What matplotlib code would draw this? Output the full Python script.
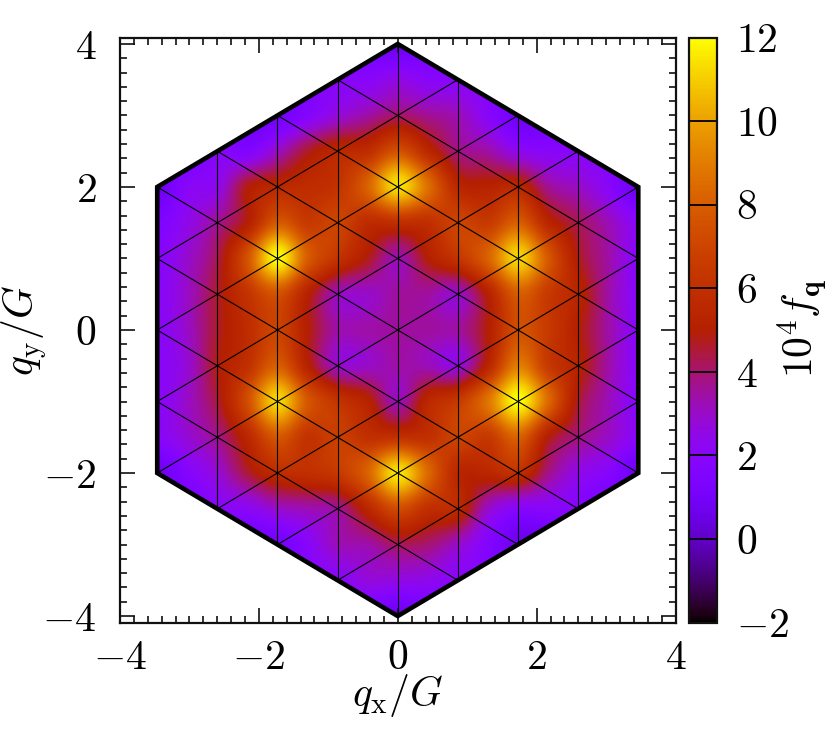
import numpy as np
import matplotlib
matplotlib.use("Agg")
import matplotlib.pyplot as plt
from matplotlib.patches import Polygon
from matplotlib.ticker import MultipleLocator

plt.rcParams['mathtext.fontset'] = 'cm'
plt.rcParams['font.family'] = 'cmr10'
plt.rcParams['axes.unicode_minus'] = False

s = np.sqrt(3) / 2

# f_q on a rectangular grid, top row is y = 4, left column is x = -4 s
# cells outside the hexagon just hold a background value
O = 2.0
y4 = [O, O, O, O, O, O, O, 1.2, 0.6, 1.2, O, O, O, O, O, O, O]
y35 = [O, O, O, O, O, O, 2.0, 2.0, 2.5, 2.0, 2.0, O, O, O, O, O, O]
y30 = [O, O, O, 1.0, 0.9, 1.8, 2.7, 3.4, 4.0, 3.6, 3.2, 2.0, 0.9, 1.0, O, O, O]
y25 = [O, 1.2, 2.0, 1.6, 3.0, 4.6, 5.5, 5.8, 7.5, 5.5, 3.8, 3.4, 2.3, 2.0, 2.0, O, O]
y20 = [0.6, 2.0, 2.4, 4.8, 5.5, 5.8, 6.2, 8.2, 11.4, 8.6, 5.5, 5.2, 5.5, 3.6, 3.0, 2.0, 0.6]
y15 = [1.5, 2.4, 3.6, 5.0, 7.8, 6.5, 7.0, 5.8, 6.0, 6.0, 7.0, 6.5, 8.0, 5.4, 4.2, 3.2, 2.0]
y10 = [1.8, 2.9, 4.3, 7.6, 12.0, 8.0, 6.2, 4.8, 3.3, 5.0, 6.3, 8.2, 11.2, 7.8, 4.8, 3.4, 2.0]
y05 = [2.0, 3.0, 4.6, 6.2, 7.6, 5.2, 3.2, 3.0, 3.5, 3.5, 3.0, 5.2, 8.0, 6.5, 5.3, 3.4, 2.0]
y00 = [2.0, 3.0, 4.6, 5.8, 7.0, 5.0, 3.4, 3.4, 3.5, 3.5, 3.5, 5.0, 7.5, 6.5, 5.0, 3.4, 2.0]
ym05 = [2.0, 2.8, 4.8, 6.0, 8.0, 5.2, 3.0, 3.0, 3.4, 3.2, 2.7, 5.4, 9.0, 6.5, 5.2, 3.4, 2.0]
ym10 = [2.0, 3.0, 4.5, 7.4, 11.2, 7.8, 6.2, 5.2, 3.2, 5.5, 6.5, 8.8, 12.0, 8.4, 4.6, 3.2, 1.9]
ym15 = [2.0, 2.8, 3.7, 5.5, 7.8, 6.2, 6.8, 6.0, 6.0, 6.0, 7.0, 6.5, 8.2, 5.0, 3.8, 3.0, 2.0]
ym20 = [0.6, 1.8, 2.8, 4.5, 5.8, 6.0, 6.5, 8.2, 11.5, 8.4, 5.5, 5.5, 6.0, 3.8, 2.5, 1.9, 0.6]
ym25 = [O, 1.2, 2.0, 2.2, 3.0, 3.3, 3.6, 5.5, 7.4, 6.0, 5.6, 3.0, 2.0, 2.0, 1.8, 1.2, O]
ym30 = [O, O, O, 1.0, 1.0, 2.0, 3.2, 3.4, 4.2, 4.0, 3.0, 1.7, 0.7, 0.8, O, O, O]
ym35 = [O, O, O, O, O, O, 2.0, 2.7, 2.6, 2.4, 2.0, O, O, O, O, O, O]
ym40 = [O, O, O, O, O, O, O, 1.2, 0.6, 1.2, O, O, O, O, O, O, O]

f_q = np.array([y4, y35, y30, y25, y20, y15, y10, y05, y00,
                ym05, ym10, ym15, ym20, ym25, ym30, ym35, ym40])

major_ticks = [-4, -2, 0, 2, 4]
cbar_ticks = [-2, 0, 2, 4, 6, 8, 10, 12]
ylim = 4.09

fig = plt.figure(figsize=(8.3, 7.46), dpi=100)
ax = fig.add_axes([120 / 830, (746 - 622.5) / 746, 555.5 / 830, 585 / 746])

dx = s / 2
dy = 0.5
im = ax.imshow(f_q, cmap='gnuplot', vmin=-2, vmax=12, aspect='auto',
               interpolation='catrom', interpolation_stage='data',
               extent=[-4 * s - dx / 2, 4 * s + dx / 2, -4 - dy / 2, 4 + dy / 2])

hex_x = [0, 4 * s, 4 * s, 0, -4 * s, -4 * s]
hex_y = [4, 2, -2, -4, -2, 2]
hexagon = Polygon(np.column_stack([hex_x, hex_y]), closed=True, fill=False,
                  edgecolor='black', lw=3.3, joinstyle='miter', zorder=5)
ax.add_patch(hexagon)
clip = Polygon(np.column_stack([hex_x, hex_y]), closed=True,
               transform=ax.transData)
im.set_clip_path(clip)

# triangular mesh, side length 1
xx = np.array([-5.0, 5.0])
for k in range(-4, 5):
    line, = ax.plot([k * s, k * s], [-5, 5], color='black', lw=0.8, zorder=4)
    line.set_clip_path(clip)
for c in range(-8, 9):
    line, = ax.plot(xx, xx / np.sqrt(3) + c, color='black', lw=0.8, zorder=4)
    line.set_clip_path(clip)
    line, = ax.plot(xx, -xx / np.sqrt(3) + c, color='black', lw=0.8, zorder=4)
    line.set_clip_path(clip)

ax.set_xlim(-4, 4)
ax.set_ylim(-ylim, ylim)
ax.set_xticks(major_ticks)
ax.set_yticks(major_ticks)
ax.set_xticklabels([f'${t}$' for t in major_ticks])
ax.set_yticklabels([f'${t}$' for t in major_ticks])
ax.xaxis.set_minor_locator(MultipleLocator(0.2))
ax.yaxis.set_minor_locator(MultipleLocator(0.2))
ax.tick_params(which='major', direction='in', top=True, right=True, length=10.5,
               width=1.2, color='#111111', labelsize=30)
ax.tick_params(which='minor', direction='in', top=True, right=True, length=5,
               width=1.2, color='#111111')
ax.tick_params(axis='x', which='major', pad=12)
ax.tick_params(axis='y', which='major', pad=17)
for sp in ax.spines.values():
    sp.set_linewidth(1.6)
    sp.set_color('#111111')
ax.set_xlabel(r'$q_{\mathrm{x}}/G$', fontsize=30, labelpad=-3)
ax.set_ylabel(r'$q_{\mathrm{y}}/G$', fontsize=30, labelpad=-5)

cax = fig.add_axes([689 / 830, (746 - 622.5) / 746, 27.7 / 830, 585 / 746])
cb = fig.colorbar(im, cax=cax)
cb.set_ticks(cbar_ticks)
cb.set_ticklabels([f'${t}$' for t in cbar_ticks])
cax.tick_params(direction='in', length=20, width=1.3, color='black',
                labelsize=30, pad=14)
cb.outline.set_linewidth(1.6)
cb.outline.set_edgecolor('#111111')
fig.text(802 / 830, 1 - 328 / 746, r'$10^4 f_{\mathbf{q}}$', fontsize=30,
         rotation=90, ha='center', va='center')

fig.savefig('out.png', dpi=100)
